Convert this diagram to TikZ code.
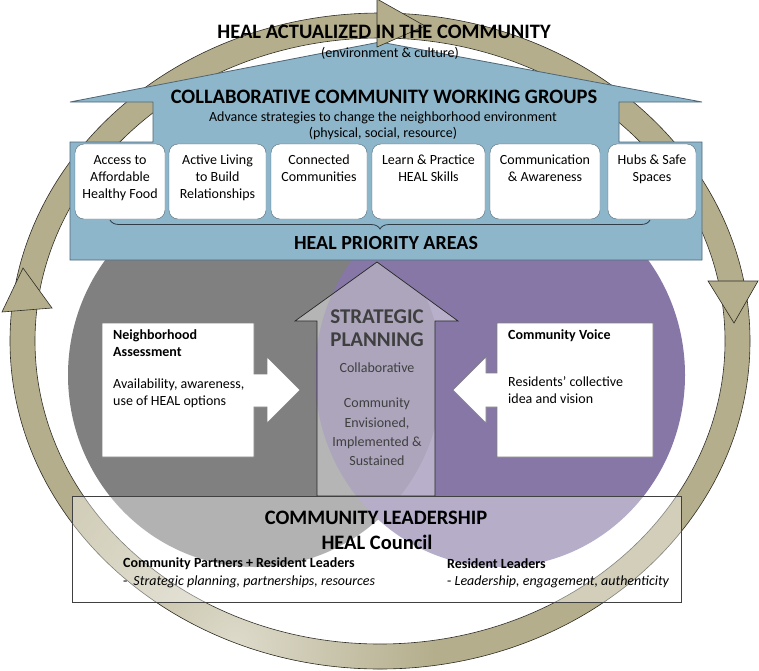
\documentclass[tikz,border=0pt]{standalone}
\usepackage{fontspec}
\setmainfont{Carlito}
\usepackage{tikz}
\usetikzlibrary{decorations.pathreplacing}
\definecolor{ringtan}{HTML}{B4AE8C}
\definecolor{ringline}{HTML}{2E2D24}
\definecolor{healblue}{HTML}{8DB6CB}
\definecolor{healblueline}{HTML}{4E6676}
\definecolor{assessgray}{HTML}{808080}
\definecolor{voicepurple}{HTML}{8677A6}
\definecolor{planninggray}{HTML}{3F3F3F}

\newcommand\planningarrow{(377,262) -- (458,321) -- (435,321) -- (435,496) -- (317,496) -- (317,321) -- (295,321) -- cycle}

\tikzset{
  smalltext/.style={inner sep=0pt, font=\fontsize{14}{17}\selectfont},
  boldsmall/.style={inner sep=0pt, font=\bfseries\fontsize{14}{17}\selectfont},
  headtext/.style={inner sep=0pt, font=\bfseries\fontsize{20.5}{23}\selectfont},
  areabox/.style={draw=healblueline, fill=white, rounded corners=9pt, minimum height=75pt, inner sep=0pt},
  areatext/.style={smalltext, align=center},
  sidebox/.style={draw=black!50, fill=white, line width=.6pt},
  headtip/.style={fill=ringtan, draw=ringline, line width=.6pt}
}

\begin{document}
\begin{tikzpicture}[x=1pt,y=-1pt]
\useasboundingbox (0,0) rectangle (759,670);
% the cycle round everything
\fill[ringtan] (380,341) ellipse [x radius=370pt, y radius=328pt];
\begin{scope}
  \clip (380,341) ellipse [x radius=370pt, y radius=328pt];
  \shade[inner color=ringtan!45!white, outer color=ringtan] (235,645) circle (200pt);
\end{scope}
\fill[white] (380,341) ellipse [x radius=345pt, y radius=303pt];
\draw[ringline, line width=.6pt] (380,341) ellipse [x radius=370pt, y radius=328pt]
  (380,341) ellipse [x radius=345pt, y radius=303pt];

% venn
\fill[assessgray] (255,375) ellipse [x radius=187pt, y radius=192pt];
\fill[voicepurple] (500,375) ellipse [x radius=185pt, y radius=192pt];

% working groups house
\draw[healblueline, fill=healblue, line width=.8pt] (70,102) -- (380,42) -- (702,102) -- (619,102)
  -- (619,142) -- (702,142) -- (702,260) -- (70,260) -- (70,142) -- (153,142) -- (153,102) -- cycle;

% arrow heads of the cycle
\draw[headtip] (377,-1) -- (425,26) -- (377,47) -- cycle;
\draw[headtip] (708,281) -- (734,323) -- (758,281) -- cycle;
\draw[headtip] (2,312) -- (23,268) -- (52,308) -- cycle;

% strategic planning arrow, overlap seen through it
\begin{scope}
  \clip \planningarrow;
  \clip (255,375) ellipse [x radius=187pt, y radius=192pt];
  \fill[black, opacity=.15] (500,375) ellipse [x radius=185pt, y radius=192pt];
\end{scope}
\draw[black!85, fill=white, fill opacity=.42, line width=.7pt] \planningarrow;

% side callouts
\draw[sidebox] (102,323) -- (254,323) -- (254,374) -- (267,374) -- (267,357) -- (300,390)
  -- (267,423) -- (267,407) -- (254,407) -- (254,457) -- (102,457) -- cycle;
\draw[sidebox] (653,323) -- (497,323) -- (497,373) -- (486,373) -- (486,357) -- (453,390)
  -- (486,423) -- (486,407) -- (497,407) -- (497,457) -- (653,457) -- cycle;

% leadership box
\draw[black!75, fill=white, fill opacity=.4, line width=.8pt] (72,496) rectangle (681,602);

% priority areas
\foreach \cx/\w/\nm/\txt in {120/90/food/{Access to\\Affordable\\Healthy Food},
    217.5/97/active/{Active Living\\to Build\\Relationships},
    319/96/connect/{Connected\\Communities},
    428.5/113/learn/{Learn \& Practice\\HEAL Skills},
    545/110/comm/{Communication\\\& Awareness},
    652/88/hubs/{Hubs \& Safe\\Spaces}}{
  \node[areabox, minimum width=\w pt] (\nm) at (\cx,181.5) {};
  \node[areatext, anchor=north] (\nm-txt) at (\cx,155) {\txt};
}
\draw[healblueline!60!black, line width=.8pt, decorate, decoration={brace, amplitude=9pt, mirror}]
  (110,220) -- (650,220);

% texts
\node[headtext] (actualized) at (384,32) {HEAL ACTUALIZED IN THE COMMUNITY};
\node[smalltext] (envcult) at (390,53) {(environment \& culture)};
\node[headtext] (groups) at (384,97) {COLLABORATIVE COMMUNITY WORKING GROUPS};
\node[smalltext] (advance) at (383,118) {Advance strategies to change the neighborhood environment};
\node[smalltext] (physical) at (383,134) {(physical, social, resource)};
\node[headtext, font=\bfseries\fontsize{20}{23}\selectfont] (priority) at (386,243) {HEAL PRIORITY AREAS};

\node[headtext, text=planninggray, align=center, font=\bfseries\fontsize{21}{23.5}\selectfont] (strategic) at (377,328) {STRATEGIC\\PLANNING};
\node[smalltext, text=planninggray] (collab) at (377,368) {Collaborative};
\node[smalltext, text=planninggray, align=center, font=\fontsize{14}{19.3}\selectfont] (envisioned) at (377,432)
  {Community\\Envisioned,\\Implemented \&\\Sustained};

\node[boldsmall, anchor=north west, align=left] (assess) at (113,329) {Neighborhood\\Assessment};
\node[smalltext, anchor=north west, align=left] (assesstxt) at (113,379) {Availability, awareness,\\use of HEAL options};
\node[boldsmall, anchor=north west] (voice) at (508,329) {Community Voice};
\node[smalltext, anchor=north west, align=left] (voicetxt) at (508,376) {Residents’ collective\\idea and vision};

\node[headtext] (leadership) at (376,518) {COMMUNITY LEADERSHIP};
\node[headtext] (council) at (377,542) {HEAL Council};
\node[boldsmall, anchor=west] (partners) at (123,564) {Community Partners + Resident Leaders};
\node[smalltext, anchor=west] (partnerstxt) at (123,582) {-\hspace{6pt}\textit{Strategic planning, partnerships, resources}};
\node[boldsmall, anchor=west] (residents) at (447,564) {Resident Leaders};
\node[smalltext, anchor=west] (residentstxt) at (447,582) {- \textit{Leadership, engagement, authenticity}};
\end{tikzpicture}
\end{document}
